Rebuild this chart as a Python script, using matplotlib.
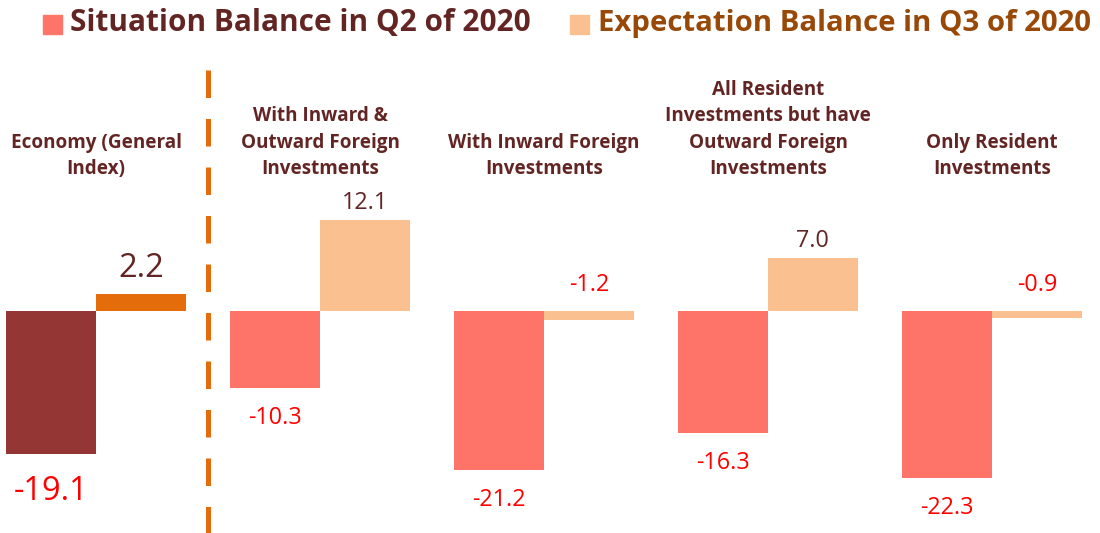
import matplotlib
matplotlib.use("Agg")
import matplotlib.pyplot as plt

categories = ["Economy (General\nIndex)",
              "With Inward &\nOutward Foreign\nInvestments",
              "With Inward Foreign\nInvestments",
              "All Resident\nInvestments but have\nOutward Foreign\nInvestments",
              "Only Resident\nInvestments"]
situation_q2 = [-19.1, -10.3, -21.2, -16.3, -22.3]
expectation_q3 = [2.2, 12.1, -1.2, 7.0, -0.9]
series_names = ["Situation Balance in Q2 of 2020", "Expectation Balance in Q3 of 2020"]

plt.rcParams['font.family'] = ['Open Sans', 'DejaVu Sans']

fig = plt.figure(figsize=(11, 5.33), dpi=100)
ax = fig.add_axes([0, 0, 1, 1])
ax.set_xlim(-0.4286, 4.482)
ax.set_ylim(-29.64, 41.5)
ax.axis('off')

w = 0.4
sit_colors = ["#943634"] + ["#FF7469"] * 4
exp_colors = ["#E46C0A"] + ["#FAC090"] * 4
dark = "#632523"
red = "#FF0000"

for i in range(len(categories)):
    s = situation_q2[i]
    e = expectation_q3[i]
    ax.bar(i - w / 2, s, width=w, color=sit_colors[i], linewidth=0)
    ax.bar(i + w / 2, e, width=w, color=exp_colors[i], linewidth=0)
    big = (i == 0)
    fs = 23.5 if big else 16.8
    off_neg = 5.0 if big else 4.0
    off_pos = 3.5 if big else 2.3
    ax.text(i - w / 2, s - off_neg, f"{s:.1f}", ha='center', va='center',
            fontsize=fs, color=red)
    if e >= 0:
        ax.text(i + w / 2, e + off_pos, f"{e:.1f}", ha='center', va='center',
                fontsize=fs, color=dark)
    else:
        ax.text(i + w / 2, 3.5, f"{e:.1f}", ha='center', va='center',
                fontsize=fs, color=red)
    ax.text(i, 17.6, categories[i], ha='center', va='bottom', fontsize=13.6,
            fontweight='bold', color=dark, linespacing=1.43)

ax.plot([0.5, 0.5], [32.2, -29.64], color="#E46C0A", linewidth=3.6,
        linestyle=(0, (5.5, 4.2)))

# legend
fig.patches.append(plt.Rectangle((43 / 1100, 1 - 34 / 533), 19 / 1100, 19 / 533,
                                 transform=fig.transFigure, color="#FF7469"))
fig.text(70 / 1100, 1 - 23 / 533, series_names[0], fontsize=21.4,
         fontweight='bold', color=dark, va='center', ha='left')
fig.patches.append(plt.Rectangle((570 / 1100, 1 - 34 / 533), 19 / 1100, 19 / 533,
                                 transform=fig.transFigure, color="#FAC090"))
fig.text(598 / 1100, 1 - 23 / 533, series_names[1], fontsize=21.2,
         fontweight='bold', color="#984807", va='center', ha='left')

fig.savefig("out.png", dpi=100)
